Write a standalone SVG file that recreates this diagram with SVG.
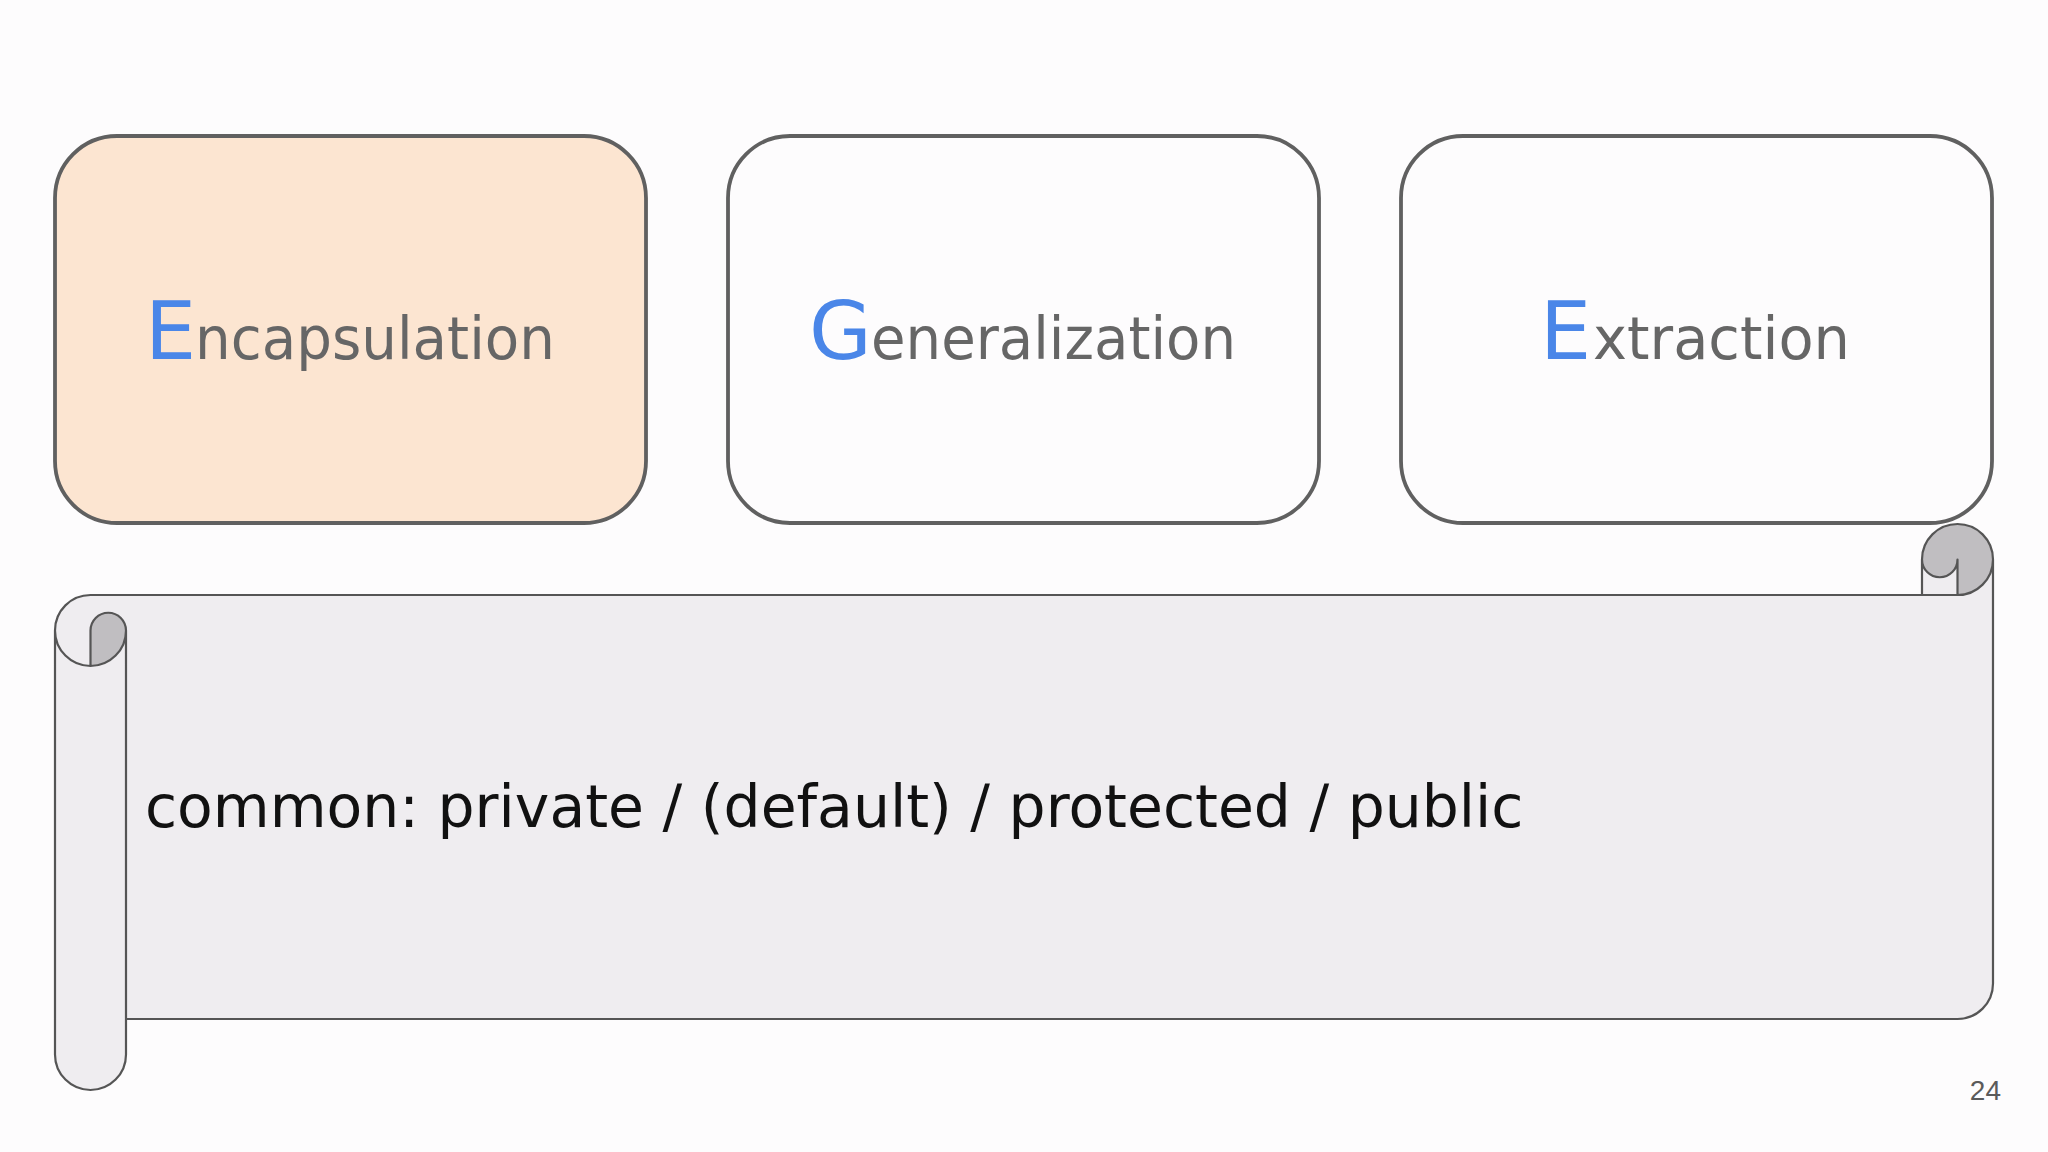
<svg xmlns="http://www.w3.org/2000/svg" width="2048" height="1152" viewBox="0 0 2048 1152">
<style>
.box{stroke:#606060;stroke-width:3.8;}
.lbl{font-family:"DejaVu Sans",sans-serif;fill:#666666;}
.cap{fill:#4A86E8;font-size:81px;}
.low{font-size:59px;}
.scroll-stroke{fill:none;stroke:#555555;stroke-width:2.2;stroke-linejoin:round;}
</style>
<rect x="0" y="0" width="2048" height="1152" fill="#FDFCFD"/>
<g id="encapsulation">
<rect class="box" x="55" y="136" width="591" height="387" rx="62" ry="62" fill="#FCE5D1"/>
<text class="lbl" y="359"><tspan class="cap" x="145">E</tspan><tspan class="low" x="195" textLength="360" lengthAdjust="spacingAndGlyphs">ncapsulation</tspan></text>
</g>
<g id="generalization">
<rect class="box" x="728" y="136" width="591" height="387" rx="62" ry="62" fill="#FDFCFD"/>
<text class="lbl" y="359"><tspan class="cap" x="809">G</tspan><tspan class="low" x="871" textLength="365" lengthAdjust="spacingAndGlyphs">eneralization</tspan></text>
</g>
<g id="extraction">
<rect class="box" x="1401" y="136" width="591" height="387" rx="62" ry="62" fill="#FDFCFD"/>
<text class="lbl" y="359"><tspan class="cap" x="1540">E</tspan><tspan class="low" x="1593" textLength="257" lengthAdjust="spacingAndGlyphs">xtraction</tspan></text>
</g>
<g id="common-scroll">
<path fill="#EFEDF0" d="M1993,559.5 A35.5,35.5 0 0 1 1957.5,595 L1957.5,559.5 A17.75,17.75 0 0 1 1922,559.5 L1922,595 L90.5,595 A35.5,35.5 0 0 0 55,630.5 L55,1054.5 A35.5,35.5 0 0 0 126,1054.5 L126,1019 L1957.5,1019 A35.5,35.5 0 0 0 1993,983.5 Z"/>
<path fill="#EFEDF0" d="M1922,559.5 A35.5,35.5 0 0 1 1993,559.5 L1993,600 L1922,600 Z"/>
<path fill="#EFEDF0" d="M55,630.5 A35.5,35.5 0 0 1 126,630.5 L126,700 L55,700 Z"/>
<path fill="#C0BEC1" d="M90.5,666 A35.5,35.5 0 0 0 126,630.5 A17.75,17.75 0 0 0 90.5,630.5 Z M1957.5,595 A35.5,35.5 0 1 0 1922,559.5 A17.75,17.75 0 0 0 1957.5,559.5 Z"/>
<path class="scroll-stroke" d="M55,630.5 A35.5,35.5 0 0 1 90.5,595 L1922,595 L1922,559.5 A35.5,35.5 0 0 1 1993,559.5 L1993,983.5 A35.5,35.5 0 0 1 1957.5,1019 L126,1019 L126,1054.5 A35.5,35.5 0 0 1 55,1054.5 Z M1922,595 L1957.5,595 A35.5,35.5 0 0 0 1993,559.5 M1957.5,595 L1957.5,559.5 A17.75,17.75 0 0 1 1922,559.5 M90.5,666 L90.5,630.5 A17.75,17.75 0 0 1 126,630.5 A35.5,35.5 0 0 1 55,630.5 M126,630.5 L126,1019"/>
<text x="145" y="827" font-family="DejaVu Sans, sans-serif" font-size="58.4" fill="#111111">common: private / (default) / protected / public</text>
</g>
<text x="2001" y="1100" font-family="Liberation Sans, Arial, sans-serif" font-size="28" fill="#5A5A5A" text-anchor="end">24</text>
</svg>
